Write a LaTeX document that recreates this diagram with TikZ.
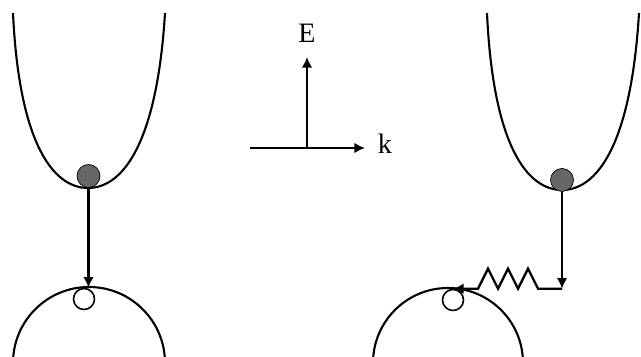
\documentclass[tikz,border=0pt]{standalone}
\usepackage{fontspec}
\setmainfont{Liberation Serif}
\usetikzlibrary{arrows.meta}

\tikzset{
  band/.style={line width=1.2pt},
  electron/.style={circle, draw, fill=black!60, inner sep=0pt, minimum size=0.46cm},
  hole/.style={circle, draw, fill=white, inner sep=0pt, minimum size=0.42cm, line width=0.9pt},
  trans/.style={->, line width=1.3pt},
}

\begin{document}
\begin{tikzpicture}[>={Latex[length=6pt,width=6pt]}, font=\fontsize{16}{18}\selectfont]
    \useasboundingbox (0,0) rectangle (12.82,7.14);

    % conduction bands
    \foreach \cx/\cy in {1.76/3.38, 11.24/3.34} {
        \draw[band] (\cx-1.50,6.88)
            .. controls (\cx-1.38,\cy+0.90) and (\cx-0.70,\cy) .. (\cx,\cy)
            .. controls (\cx+0.70,\cy) and (\cx+1.38,\cy+0.90) .. (\cx+1.54,6.88);
    }

    % valence bands
    \begin{scope}
        \clip (0,0) rectangle (12.82,7.14);
        \draw[band] (1.78,-0.12) circle (1.52);
        \draw[band] (8.96,-0.12) circle (1.50);
    \end{scope}

    \node[electron] (e1) at (1.77,3.62) {};
    \node[electron] (e2) at (11.24,3.54) {};
    \node[hole] (h1) at (1.68,1.16) {};
    \node[hole] (h2) at (9.06,1.14) {};

    % direct transition
    \draw[trans] (e1.south) -- (e1.south |- h1.north);

    % indirect transition via phonon
    \draw[trans] (e2.south) -- (e2.south |- h2.north);
    \draw[trans] (e2.south |- h2.north) -- ++(-0.48,0)
        -- ++(-0.2,0.4) -- ++(-0.2,-0.4)
        -- ++(-0.2,0.4) -- ++(-0.2,-0.4)
        -- ++(-0.2,0.4) -- ++(-0.2,-0.4)
        -- (h2.north);

    % axes
    \coordinate (O) at (6.14,4.18);
    \coordinate (Etip) at (6.14,6.0);
    \coordinate (kstart) at (5.0,4.18);
    \coordinate (ktip) at (7.30,4.18);
    \node (E) at (6.14,6.48) {E};
    \node (k) at (7.70,4.27) {k};
    \draw[->, line width=1.2pt] (O) -- (Etip);
    \draw[->, line width=1.2pt] (kstart) -- (ktip);
\end{tikzpicture}
\end{document}
